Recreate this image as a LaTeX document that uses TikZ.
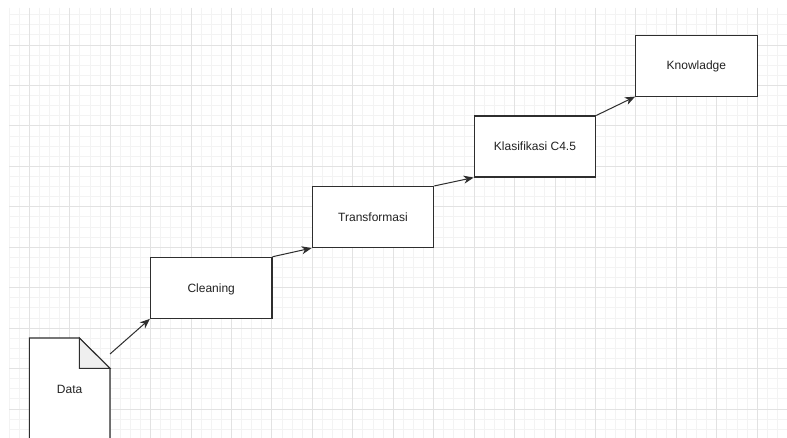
\documentclass[tikz,border=0pt]{standalone}
\usepackage{fontspec}
\setmainfont{Liberation Sans}
\usetikzlibrary{arrows.meta}
\definecolor{minorgrid}{HTML}{F3F3F3}
\definecolor{majorgrid}{HTML}{E2E2E2}
\definecolor{ink}{HTML}{2E2E2E}
\definecolor{textink}{HTML}{222222}
\definecolor{foldfill}{HTML}{EFEFEF}
\tikzset{
  stepbox/.style={draw=ink, line width=1.1pt, fill=white, minimum width=121.5pt, minimum height=61pt, inner sep=0pt, text height=8.6pt, text depth=0pt, font=\fontsize{12pt}{14pt}\selectfont, text=textink},
  conn/.style={draw=ink, line width=1pt, -{Stealth[length=10pt,width=8pt,inset=3pt]}},
  minorline/.style={draw=minorgrid, line width=0.9pt},
  majorline/.style={draw=majorgrid, line width=0.9pt}
}
\begin{document}
\begin{tikzpicture}[x=1pt,y=-1pt]
\useasboundingbox (0,0) rectangle (787,438);
\fill[white] (0,0) rectangle (787,438);
\begin{scope}
\clip (9,8) rectangle (787,438);
\foreach \i in {0,...,77} {
  \draw[minorline] ({9.08+10.11*\i},8) -- ({9.08+10.11*\i},438);
}
\foreach \i in {0,...,43} {
  \draw[minorline] (9,{4.56+10.11*\i}) -- (787,{4.56+10.11*\i});
}
\foreach \i in {0,...,19} {
  \draw[majorline] ({29.3+40.44*\i},8) -- ({29.3+40.44*\i},438);
}
\foreach \i in {0,...,10} {
  \draw[majorline] (9,{4.56+40.44*\i}) -- (787,{4.56+40.44*\i});
}
\end{scope}

% Data document shape
\begin{scope}
\clip (0,0) rectangle (787,438);
\draw[draw=ink, line width=1.1pt, fill=white] (29.3,460) -- (29.3,338) -- (79.3,338) -- (110,368.3) -- (110,460);
\draw[draw=ink, line width=1.1pt, fill=foldfill, line join=miter] (79.3,338) -- (79.3,368.3) -- (110,368.3) -- cycle;
\end{scope}
\node[font=\fontsize{12pt}{14pt}\selectfont, text=textink, text height=8.6pt, text depth=0pt, inner sep=0pt] (data) at (69.6,389) {Data};
\coordinate (dataout) at (110,354);

\node[stepbox] (cleaning) at (211.2,287.8) {Cleaning};
\node[stepbox] (transformasi) at (373,217) {Transformasi};
\node[stepbox] (klasifikasi) at (535,146.5) {Klasifikasi C4.5};
\node[stepbox] (knowladge) at (696.4,65.6) {Knowladge};

\draw[conn] (dataout) -- (cleaning.south west);
\draw[conn] (cleaning.north east) -- (transformasi.south west);
\draw[conn] (transformasi.north east) -- (klasifikasi.south west);
\draw[conn] (klasifikasi.north east) -- (knowladge.south west);
\end{tikzpicture}
\end{document}
